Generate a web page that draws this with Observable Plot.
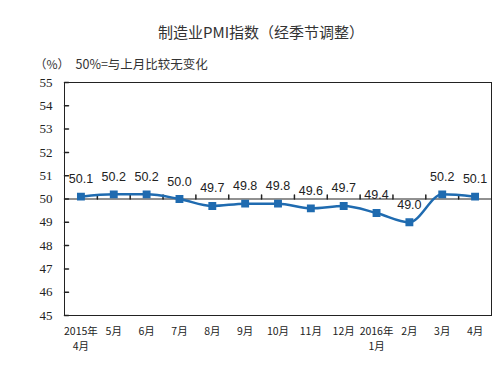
<!DOCTYPE html>
<html>
<head>
<meta charset="utf-8">
<script src="https://cdn.jsdelivr.net/npm/d3@7"></script>
<script src="https://cdn.jsdelivr.net/npm/@observablehq/plot@0.6"></script>
<style>
  body { margin: 0; background: #fff; }
  #chart svg { display: block; }
</style>
</head>
<body>
<div id="chart"></div>
<script>
const months = ["2015年\n4月", "5月", "6月", "7月", "8月", "9月", "10月", "11月", "12月", "2016年\n1月", "2月", "3月", "4月"];
const pmi = [50.1, 50.2, 50.2, 50.0, 49.7, 49.8, 49.8, 49.6, 49.7, 49.4, 49.0, 50.2, 50.1];
const yTicks = [45, 46, 47, 48, 49, 50, 51, 52, 53, 54, 55];
const title = "制造业PMI指数（经季节调整）";
const unitLabel = "（%）";
const note = "50%=与上月比较无变化";

const data = pmi.map((v, i) => ({i, v}));
const idx = months.map((m, i) => i);
const boundaries = months.slice(1).map((m, i) => i + 0.5);

const tickShape = {draw(context, l) { context.moveTo(0, 0); context.lineTo(0, -l); }};
const blue = "#1f6bb0";
const cjk = "'Noto Sans CJK SC', sans-serif";

const chart = Plot.plot({
  width: 498,
  height: 367,
  marginTop: 82,
  marginBottom: 52,
  marginLeft: 64,
  marginRight: 7,
  style: {background: "#fff", color: "#222"},
  x: {domain: [-0.5, 12.5], label: null},
  y: {domain: [45, 55], label: null},
  marks: [
    Plot.text([title], {frameAnchor: "top", dx: -17, dy: -55, fontSize: 15, fontFamily: cjk, fill: "#333"}),
    Plot.text([unitLabel], {frameAnchor: "top-left", dx: -30, dy: -22, textAnchor: "start", fontSize: 12, fontFamily: cjk, fill: "#333"}),
    Plot.text([note], {frameAnchor: "top-left", dx: 11, dy: -22, textAnchor: "start", fontSize: 12.5, fontFamily: cjk, fill: "#333"}),
    Plot.axisY({ticks: yTicks, label: null, tickSize: 0, tickPadding: 12, fontSize: 13, fontFamily: "'Liberation Serif', serif", tickFormat: d => d}),
    Plot.vector(yTicks, {y: d => d, frameAnchor: "left", rotate: 90, length: 4, anchor: "start", shape: tickShape, stroke: "#222"}),
    Plot.axisX({ticks: idx, label: null, tickFormat: i => months[i], tickSize: 0, tickPadding: 9, fontSize: 10.5, lineHeight: 1.4, fontFamily: cjk}),
    Plot.ruleY([50], {stroke: "#222"}),
    Plot.vector(boundaries, {x: d => d, y: () => 50, rotate: 0, length: 4, anchor: "start", shape: tickShape, stroke: "#222"}),
    Plot.frame({stroke: "#222"}),
    Plot.line(data, {x: "i", y: "v", stroke: blue, strokeWidth: 2.5, curve: "monotone-x"}),
    Plot.dot(data, {x: "i", y: "v", symbol: "square", r: 3.6, fill: blue, stroke: blue}),
    Plot.text(data, {x: "i", y: "v", text: d => d.v.toFixed(1), dy: -17.5, fontSize: 12.5, fontFamily: "'Liberation Sans', Arial, sans-serif", fill: "#222"})
  ]
});
document.getElementById("chart").appendChild(chart);
</script>
</body>
</html>
